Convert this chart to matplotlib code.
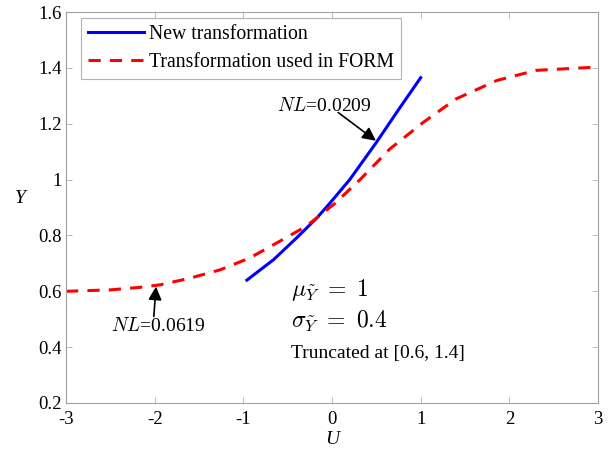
import matplotlib
matplotlib.use('Agg')
import matplotlib.pyplot as plt

plt.rcParams['font.family'] = ['Liberation Serif', 'DejaVu Serif']
plt.rcParams['mathtext.fontset'] = 'cm'

# new transformation (blue)
u_new = [-0.96, -0.66, -0.40, -0.17, -0.02, 0.20, 0.50, 0.73, 1.0]
y_new = [0.640, 0.713, 0.791, 0.863, 0.917, 1.0, 1.133, 1.241, 1.365]

# transformation used in FORM (red dashed)
u_form = [-3.0, -2.5, -2.17, -1.94, -1.6, -1.26, -0.93, -0.59, -0.29, 0.03,
          0.32, 0.65, 1.03, 1.4, 1.86, 2.3, 3.0]
y_form = [0.600, 0.605, 0.614, 0.623, 0.647, 0.677, 0.719, 0.779, 0.833, 0.914,
          1.001, 1.109, 1.205, 1.289, 1.355, 1.391, 1.403]

xticks = [-3, -2, -1, 0, 1, 2, 3]
yticks = [0.2, 0.4, 0.6, 0.8, 1.0, 1.2, 1.4, 1.6]
ytick_labels = ['0.2', '0.4', '0.6', '0.8', '1', '1.2', '1.4', '1.6']

fig = plt.figure(figsize=(6.08, 4.53), dpi=100)
ax = fig.add_axes([0.1086, 0.1104, 0.875, 0.8631])

ax.plot(u_new, y_new, color='#0000ff', lw=2.2, label='New transformation')
ax.plot(u_form, y_form, color='#ff0000', lw=2.2, ls=(0, (4, 3)),
        label='Transformation used in FORM')

ax.set_xlim(-3, 3)
ax.set_ylim(0.2, 1.6)
ax.set_xticks(xticks)
ax.set_xticklabels([str(t) for t in xticks])
ax.set_yticks(yticks)
ax.set_yticklabels(ytick_labels)
ax.tick_params(direction='in', top=True, right=True, length=4, width=0.6,
               color='#b0b0b0', labelsize=13.5)
ax.tick_params(axis='x', pad=6)
ax.tick_params(axis='y', pad=3)
for s in ax.spines.values():
    s.set_color('#a0a0a0')
    s.set_linewidth(0.8)

ax.set_xlabel('U', style='italic', fontsize=14, labelpad=2)
ax.set_ylabel('Y', style='italic', fontsize=14, rotation=0)
ax.yaxis.set_label_coords(-0.085, 0.50)

leg = ax.legend(loc='upper left', fontsize=14.2, frameon=True, fancybox=False,
                handlelength=2.8, borderaxespad=0.0, borderpad=0.35,
                labelspacing=0.45, handletextpad=0.3, bbox_to_anchor=(0.029, 0.984))
leg.get_frame().set_edgecolor('#a0a0a0')
leg.get_frame().set_linewidth(0.8)

# NL labels with arrows
ax.text(-0.62, 1.265, '$\\it{NL}$=0.0209', fontsize=14, ha='left', va='center')
ax.annotate('', xy=(0.495, 1.139), xytext=(0.07, 1.24),
            arrowprops=dict(arrowstyle='-|>', color='black', lw=1.2,
                            mutation_scale=20, shrinkA=0, shrinkB=0))
ax.text(-1.96, 0.476, '$\\it{NL}$=0.0619', fontsize=14, ha='center', va='center')
ax.annotate('', xy=(-1.985, 0.617), xytext=(-2.01, 0.51),
            arrowprops=dict(arrowstyle='-|>', color='black', lw=1.2,
                            mutation_scale=20, shrinkA=0, shrinkB=0))

ax.text(-0.46, 0.606, '$\\mu_{\\tilde{Y}}\\ =\\ 1$', fontsize=17, va='center')
ax.text(-0.46, 0.491, '$\\sigma_{\\tilde{Y}}\\ =\\ 0.4$', fontsize=17, va='center')
ax.text(-0.46, 0.376, 'Truncated at [0.6, 1.4]', fontsize=14, va='center')

fig.savefig('out.png', dpi=100)
